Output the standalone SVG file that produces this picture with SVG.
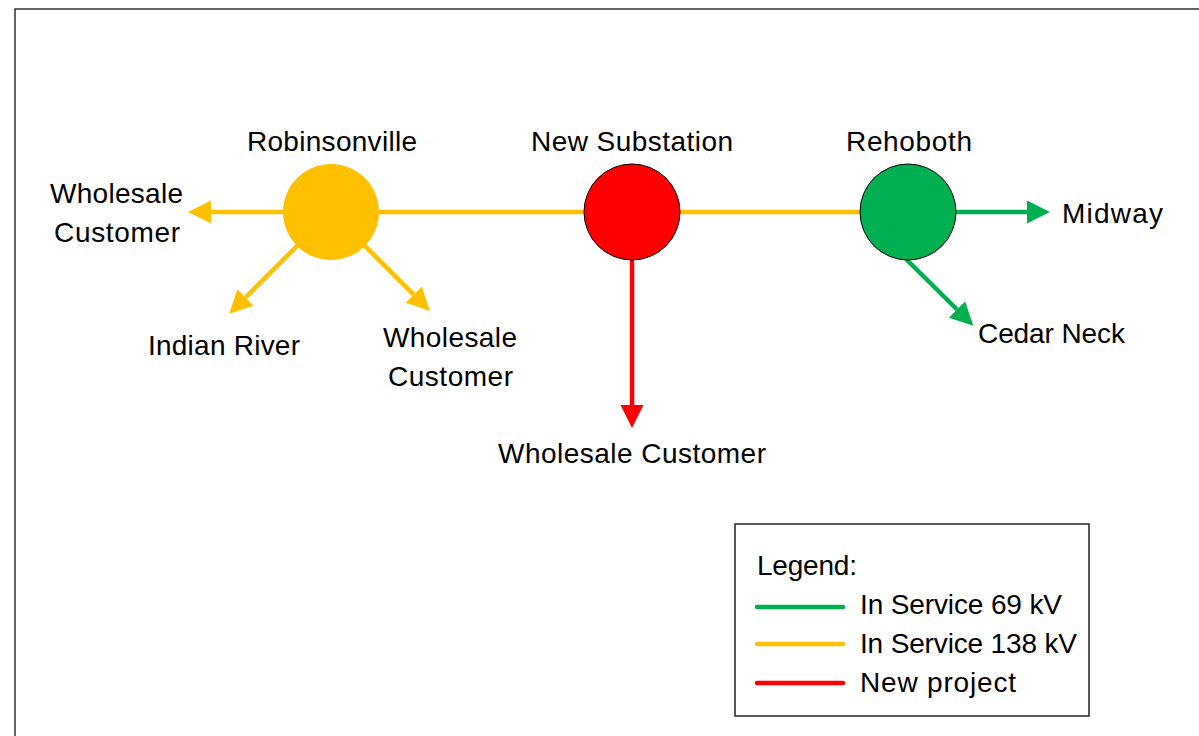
<svg xmlns="http://www.w3.org/2000/svg" width="1199" height="736" viewBox="0 0 1199 736">
<style>
text{font-family:"Liberation Sans",Arial,sans-serif;font-size:28px;fill:#000}
.y{stroke:#FFC000;stroke-width:4.5;fill:none}
.r{stroke:#FF0000;stroke-width:4.5;fill:none}
.g{stroke:#00B050;stroke-width:4.5;fill:none}
.node{stroke:#000;stroke-width:1}
.lg{stroke-width:4.5;stroke-linecap:round}
</style>
<defs>
<marker id="ay" markerUnits="userSpaceOnUse" markerWidth="24" markerHeight="24" refX="0" refY="11.5" orient="auto"><path d="M0,0 L23,11.5 L0,23 z" fill="#FFC000"/></marker>
<marker id="ar" markerUnits="userSpaceOnUse" markerWidth="24" markerHeight="24" refX="0" refY="11.5" orient="auto"><path d="M0,0 L23,11.5 L0,23 z" fill="#FF0000"/></marker>
<marker id="ag" markerUnits="userSpaceOnUse" markerWidth="24" markerHeight="24" refX="0" refY="11.5" orient="auto"><path d="M0,0 L23,11.5 L0,23 z" fill="#00B050"/></marker>
</defs>
<rect width="1199" height="736" fill="#fff"/>
<rect x="15" y="9" width="1200" height="740" fill="none" stroke="#333" stroke-width="1.5"/>
<g id="connectors">
<line class="y" x1="331" y1="212" x2="908" y2="212"/>
<line class="y" x1="331" y1="212" x2="211" y2="212" marker-end="url(#ay)"/>
<line class="y" x1="331" y1="212" x2="245.5" y2="297.5" marker-end="url(#ay)"/>
<line class="y" x1="331" y1="212" x2="413.7" y2="294.7" marker-end="url(#ay)"/>
<line class="r" x1="632" y1="212" x2="632" y2="405" marker-end="url(#ar)"/>
<line class="g" x1="908" y1="212" x2="1027" y2="212" marker-end="url(#ag)"/>
<line class="g" x1="906" y1="259" x2="957" y2="309.5" marker-end="url(#ag)"/>
</g>
<g id="robinsonville">
<circle cx="331" cy="212" r="48" fill="#FFC000"/>
<text x="247" y="151" textLength="170">Robinsonville</text>
</g>
<g id="new-substation">
<circle class="node" cx="632" cy="212" r="48" fill="#FF0000"/>
<text x="531" y="151" textLength="202">New Substation</text>
</g>
<g id="rehoboth">
<circle class="node" cx="908" cy="212" r="48" fill="#00B050"/>
<text x="846" y="151" textLength="126">Rehoboth</text>
</g>
<g id="wholesale-customer-west">
<text x="50" y="203" textLength="133">Wholesale</text>
<text x="54" y="242" textLength="126">Customer</text>
</g>
<g id="indian-river">
<text x="148" y="355" textLength="152">Indian River</text>
</g>
<g id="wholesale-customer-south">
<text x="383" y="347" textLength="134">Wholesale</text>
<text x="388" y="386" textLength="125">Customer</text>
</g>
<g id="wholesale-customer-new">
<text x="498" y="463" textLength="268">Wholesale Customer</text>
</g>
<g id="midway">
<text x="1062" y="223" textLength="101">Midway</text>
</g>
<g id="cedar-neck">
<text x="978" y="343" textLength="147">Cedar Neck</text>
</g>
<g id="legend">
<rect x="735" y="524" width="354" height="192" fill="#fff" stroke="#222" stroke-width="1.5"/>
<text x="757" y="575" textLength="100">Legend:</text>
<line class="lg" x1="757" y1="607" x2="843" y2="607" stroke="#00B050"/>
<line class="lg" x1="757" y1="644" x2="843" y2="644" stroke="#FFC000"/>
<line class="lg" x1="757" y1="683" x2="843" y2="683" stroke="#FF0000"/>
<text x="860" y="614" textLength="202">In Service 69 kV</text>
<text x="860" y="653" textLength="217">In Service 138 kV</text>
<text x="860" y="692" textLength="156">New project</text>
</g>
</svg>
